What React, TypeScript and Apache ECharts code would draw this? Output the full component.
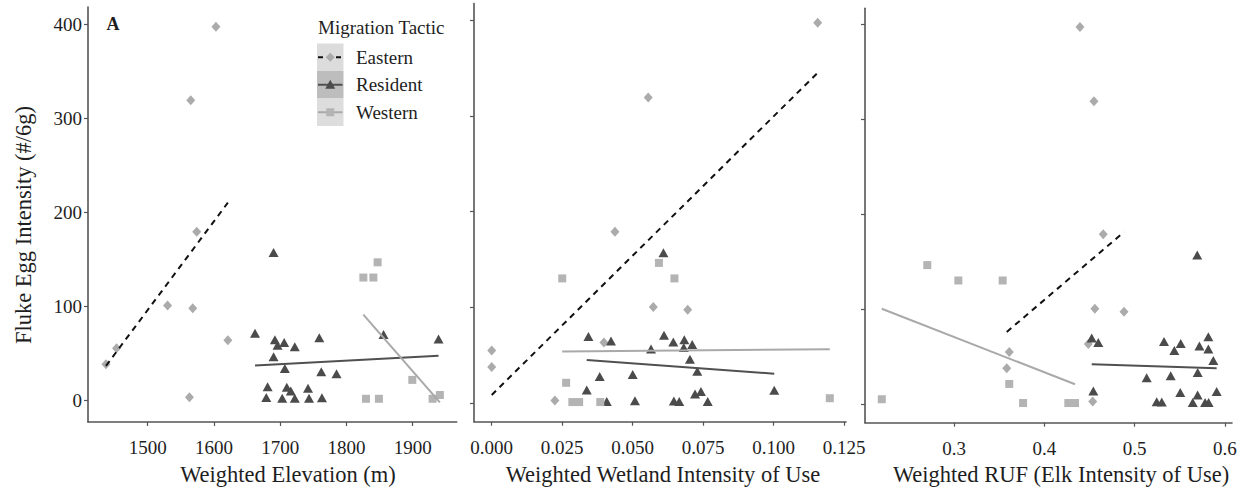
import React, { useEffect, useRef } from "react";
import * as echarts from "echarts";

// ---------- data ----------
const tactics = ["Eastern", "Resident", "Western"];
const eggTicks = [0, 100, 200, 300, 400];
const elevationTicks = [1500, 1600, 1700, 1800, 1900];
const wetlandTicks = [0, 0.025, 0.05, 0.075, 0.1, 0.125];
const rufTicks = [0.3, 0.4, 0.5, 0.6];

// Fluke egg intensity (#/6g) per elk, shared by the three panels
const easternEggs = [397, 319, 179, 100.5, 97.5, 63.5, 55, 38, 3];
const easternElevation = [1603, 1565, 1574, 1530, 1568, 1621, 1453, 1437, 1563];
const easternWetland = [0.1156, 0.0555, 0.0437, 0.0573, 0.0695, 0.0398, 0, 0, 0.0224];
const easternRuf = [0.4395, 0.455, 0.4653, 0.456, 0.4883, 0.4487, 0.3612, 0.3584, 0.4536];

const residentEggs = [157, 71, 69.7, 66.2, 65, 64, 61.3, 58.3, 56.7, 46, 33.4, 30, 28, 14, 13.5, 12.4, 9.7, 2.6, 2.3, 1.8, 1.8, 1.8];
const residentElevation = [1690, 1662, 1856, 1759, 1939, 1692, 1706, 1696, 1722, 1690, 1707, 1762, 1785, 1681, 1710, 1742, 1716, 1679, 1763, 1703, 1722, 1743.5];
const residentWetland = [0.0609, 0.0611, 0.0343, 0.0683, 0.0423, 0.0644, 0.0711, 0.0681, 0.0565, 0.0703, 0.0729, 0.05, 0.0383, 0.0337, 0.1002, 0.0742, 0.0721, 0.0508, 0.0646, 0.0408, 0.0665, 0.0766];
const residentRuf = [0.5694, 0.5817, 0.4525, 0.5326, 0.4598, 0.5511, 0.5718, 0.5817, 0.544, 0.5872, 0.5699, 0.54, 0.5134, 0.4543, 0.5909, 0.5506, 0.5698, 0.5245, 0.5301, 0.5644, 0.5781, 0.582];

const westernEggs = [146.5, 130.3, 130.3, 21.4, 5.3, 1.3, 1.3, 1.3];
const westernElevation = [1847, 1825.5, 1840.6, 1899.4, 1941, 1829.5, 1849, 1930];
const westernWetland = [0.0593, 0.025, 0.0648, 0.0264, 0.1199, 0.0286, 0.031, 0.0385];
const westernRuf = [0.2704, 0.3048, 0.3539, 0.3612, 0.22, 0.3765, 0.4266, 0.434];

const xTitles = ["Weighted Elevation (m)", "Weighted Wetland Intensity of Use", "Weighted RUF (Elk Intensity of Use)"];
const yTitle = "Fluke Egg Intensity (#/6g)";
const legendTitle = "Migration Tactic";
const panelTag = "A";

// ---------- helpers ----------
function fitLine(xs: number[], ys: number[]): number[][] {
  const n = xs.length;
  const mx = xs.reduce((a, b) => a + b, 0) / n;
  const my = ys.reduce((a, b) => a + b, 0) / n;
  let sxy = 0;
  let sxx = 0;
  for (let i = 0; i < n; i++) {
    sxy += (xs[i] - mx) * (ys[i] - my);
    sxx += (xs[i] - mx) * (xs[i] - mx);
  }
  const b = sxy / sxx;
  const a = my - b * mx;
  const lo = Math.min(...xs);
  const hi = Math.max(...xs);
  return [
    [lo, a + b * lo],
    [hi, a + b * hi],
  ];
}

const FONT = '"Liberation Serif", "Times New Roman", serif';
const AXIS = "#555555";
const TEXT = "#1e1e1e";

const groupStyle = [
  { symbol: "diamond", size: [9, 10], color: "#ababab", line: { color: "#111111", width: 2, type: [6, 5] } },
  { symbol: "triangle", size: [10, 9], color: "#4b4b4b", line: { color: "#505050", width: 2, type: "solid" } },
  { symbol: "rect", size: [8, 8], color: "#b4b4b4", line: { color: "#a9a9a9", width: 2, type: "solid" } },
];

const groupEggs = [easternEggs, residentEggs, westernEggs];

const panels = [
  {
    grid: { left: 88, top: 7, width: 368.7, height: 415 },
    xMin: 1409.9, xMax: 1966.4, yMin: -23.4, yMax: 418.1,
    ticks: elevationTicks, fmt: (v: number) => String(v), showY: true,
    xs: [easternElevation, residentElevation, westernElevation],
  },
  {
    grid: { left: 474, top: 3.5, width: 372, height: 418.2 },
    xMin: -0.00628, xMax: 0.12564, yMin: -19.2, yMax: 417.2,
    ticks: wetlandTicks, fmt: (v: number) => v.toFixed(3), showY: false,
    xs: [easternWetland, residentWetland, westernWetland],
  },
  {
    grid: { left: 865, top: 8.3, width: 367, height: 414.4 },
    xMin: 0.2014, xMax: 0.6079, yMin: -19.4, yMax: 416.8,
    ticks: rufTicks, fmt: (v: number) => v.toFixed(1), showY: false,
    xs: [easternRuf, residentRuf, westernRuf],
  },
];

function buildOption() {
  const grid = panels.map((p) => ({ ...p.grid, containLabel: false }));
  const xAxis = panels.map((p, i) => ({
    gridIndex: i,
    type: "value",
    min: p.xMin,
    max: p.xMax,
    axisLine: { show: true, onZero: false, lineStyle: { color: AXIS, width: 1.6 } },
    axisTick: { show: true, customValues: p.ticks, length: 4, lineStyle: { color: AXIS, width: 1.2 } },
    axisLabel: { customValues: p.ticks, formatter: p.fmt, margin: 16, fontFamily: FONT, fontSize: 19, color: TEXT },
    splitLine: { show: false },
  }));
  const yAxis = panels.map((p, i) => ({
    gridIndex: i,
    type: "value",
    min: p.yMin,
    max: p.yMax,
    axisLine: { show: true, onZero: false, lineStyle: { color: AXIS, width: 1.6 } },
    axisTick: { show: true, customValues: eggTicks, length: 4, lineStyle: { color: AXIS, width: 1.2 } },
    axisLabel: { show: p.showY, customValues: eggTicks, margin: 6, fontFamily: FONT, fontSize: 19, color: TEXT },
    splitLine: { show: false },
  }));

  const series: any[] = [];
  panels.forEach((p, i) => {
    tactics.forEach((t, g) => {
      const xs = p.xs[g];
      const ys = groupEggs[g];
      const st = groupStyle[g];
      series.push({
        type: "scatter",
        name: t,
        xAxisIndex: i,
        yAxisIndex: i,
        data: xs.map((x, k) => [x, ys[k]]),
        symbol: st.symbol,
        symbolSize: st.size,
        itemStyle: { color: st.color, opacity: 1 },
        z: 2,
      });
    });
    tactics.forEach((t, g) => {
      const st = groupStyle[g];
      series.push({
        type: "line",
        name: t + " fit",
        xAxisIndex: i,
        yAxisIndex: i,
        data: fitLine(p.xs[g], groupEggs[g]),
        symbol: "none",
        showSymbol: false,
        lineStyle: { color: st.line.color, width: st.line.width, type: st.line.type },
        z: 3,
        silent: true,
      });
    });
  });

  // legend drawn as graphic (ggplot-style keys)
  const keyX = 317;
  const keyW = 26.5;
  const keyH = 27.5;
  const keyTop = 43.5;
  const keyBg = ["#dcdcdc", "#bdbdbd", "#dddddd"];
  const legendEls: any[] = [
    {
      type: "text",
      x: 318,
      y: 27,
      style: { text: legendTitle, fontFamily: FONT, fontSize: 19, fill: TEXT, align: "left", verticalAlign: "middle" },
    },
  ];
  tactics.forEach((t, g) => {
    const top = keyTop + g * keyH;
    const cy = top + keyH / 2;
    const cx = keyX + keyW / 2;
    const st = groupStyle[g];
    legendEls.push({ type: "rect", shape: { x: keyX, y: top, width: keyW, height: keyH }, style: { fill: keyBg[g] } });
    legendEls.push({
      type: "line",
      shape: { x1: keyX + 1, y1: cy, x2: keyX + keyW - 1, y2: cy },
      style: { stroke: st.line.color, lineWidth: 2, lineDash: g === 0 ? [5, 4] : null },
    });
    if (g === 0) {
      legendEls.push({ type: "polygon", shape: { points: [[cx, cy - 4.5], [cx + 4.5, cy], [cx, cy + 4.5], [cx - 4.5, cy]] }, style: { fill: st.color } });
    } else if (g === 1) {
      legendEls.push({ type: "polygon", shape: { points: [[cx, cy - 5], [cx + 5, cy + 4], [cx - 5, cy + 4]] }, style: { fill: st.color } });
    } else {
      legendEls.push({ type: "rect", shape: { x: cx - 4, y: cy - 4, width: 8, height: 8 }, style: { fill: st.color } });
    }
    legendEls.push({
      type: "text",
      x: 356,
      y: cy,
      style: { text: t, fontFamily: FONT, fontSize: 19, fill: TEXT, align: "left", verticalAlign: "middle" },
    });
  });

  const titleCenters = [288, 663, 1061];
  const titleEls = xTitles.map((tt, i) => ({
    type: "text",
    x: titleCenters[i],
    y: 474,
    style: { text: tt, fontFamily: FONT, fontSize: 22.5, fill: TEXT, align: "center", verticalAlign: "middle" },
  }));

  const graphic = [
    ...legendEls,
    ...titleEls,
    {
      type: "text",
      x: 23,
      y: 225,
      rotation: Math.PI / 2,
      style: { text: yTitle, fontFamily: FONT, fontSize: 22.5, fill: TEXT, align: "center", verticalAlign: "middle" },
    },
    {
      type: "text",
      x: 113,
      y: 24,
      style: { text: panelTag, fontFamily: FONT, fontSize: 18, fontWeight: "bold", fill: TEXT, align: "center", verticalAlign: "middle" },
    },
  ];

  return {
    animation: false,
    backgroundColor: "#ffffff",
    grid,
    xAxis,
    yAxis,
    series,
    graphic,
  };
}

export default function App() {
  const ref = useRef<HTMLDivElement>(null);
  useEffect(() => {
    if (!ref.current) return;
    const chart = echarts.init(ref.current, null, { renderer: "svg" });
    chart.setOption(buildOption() as any);
    return () => chart.dispose();
  }, []);
  return <div ref={ref} style={{ position: "absolute", left: 0, top: 0, width: 1246, height: 492 }} />;
}
